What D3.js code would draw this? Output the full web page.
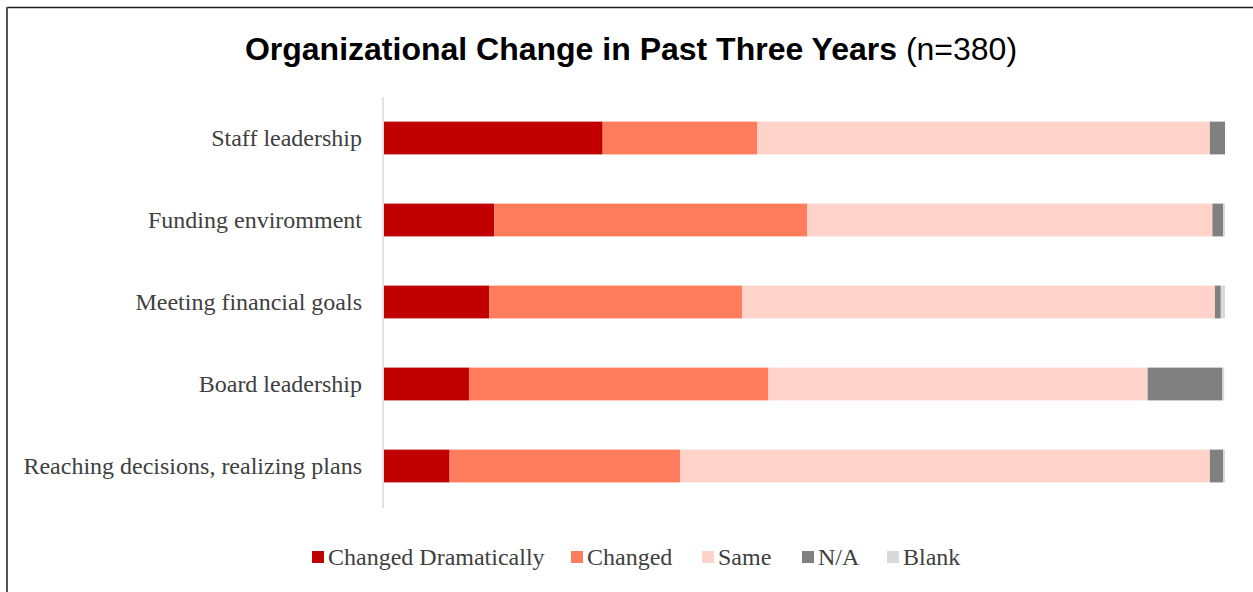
<!DOCTYPE html>
<html>
<head>
<meta charset="utf-8">
<script src="https://cdn.jsdelivr.net/npm/d3@7"></script>
<style>
  html, body { margin: 0; padding: 0; background: #fff; }
  svg { display: block; }
</style>
</head>
<body>
<svg id="chart" width="1253" height="592"></svg>
<script>
// Share of respondents (%) per area, by response
const categories = [
  "Staff leadership",
  "Funding enviromment",
  "Meeting financial goals",
  "Board leadership",
  "Reaching decisions, realizing plans"
];
const seriesNames = ["Changed Dramatically", "Changed", "Same", "N/A", "Blank"];
const changedDramatically = [26.0, 13.1, 12.5, 10.1, 7.8];
const changed             = [18.4, 37.2, 30.1, 35.6, 27.4];
const same                = [53.8, 48.2, 56.2, 45.1, 63.0];
const notApplicable       = [1.8, 1.3, 0.7, 8.9, 1.6];
const blank               = [0.0, 0.2, 0.5, 0.2, 0.2];
const seriesColors = ["#C00000", "#FF7C5C", "#FFD3CA", "#808080", "#D9D9D9"];

const rows = categories.map((c, i) => ({
  category: c,
  "Changed Dramatically": changedDramatically[i],
  "Changed": changed[i],
  "Same": same[i],
  "N/A": notApplicable[i],
  "Blank": blank[i]
}));

const svg = d3.select("#chart");
const W = 1253, H = 592;

// outer frame
svg.append("line").attr("x1", 7).attr("x2", W).attr("y1", 7.5).attr("y2", 7.5)
  .attr("stroke", "#1a1a1a").attr("stroke-width", 1.5);
svg.append("line").attr("x1", 7).attr("x2", 7).attr("y1", 7).attr("y2", H)
  .attr("stroke", "#555").attr("stroke-width", 2);

const margin = { left: 384, right: 28, top: 97, bottom: 85 };
const x = d3.scaleLinear().domain([0, 100]).range([margin.left, W - margin.right]);
const y = d3.scaleBand().domain(categories).range([margin.top, H - margin.bottom])
  .paddingInner(0.6).paddingOuter(0.3);

const stack = d3.stack().keys(seriesNames)(rows);
const color = d3.scaleOrdinal().domain(seriesNames).range(seriesColors);

svg.append("g").selectAll("g").data(stack).join("g")
  .attr("fill", d => color(d.key))
  .selectAll("rect").data(d => d).join("rect")
  .attr("x", d => x(d[0]))
  .attr("width", d => Math.max(0, x(d[1]) - x(d[0])))
  .attr("y", d => y(d.data.category))
  .attr("height", y.bandwidth());

// category axis
const yAxis = svg.append("g").attr("transform", `translate(${margin.left - 1},0)`)
  .call(d3.axisLeft(y).tickSize(0).tickPadding(21));
yAxis.select(".domain").attr("stroke", "#d9d9d9").attr("stroke-width", 1.5)
  .attr("d", `M0,${margin.top}V${H - margin.bottom + 1}`);
yAxis.selectAll("text")
  .attr("font-family", "'Liberation Serif', 'Times New Roman', serif")
  .attr("font-size", 24).attr("fill", "#404040");

// title
const title = svg.append("text").attr("x", 631).attr("y", 60).attr("text-anchor", "middle")
  .attr("font-family", "'Liberation Sans', Arial, sans-serif").attr("font-size", 32).attr("fill", "#000");
title.append("tspan").attr("font-weight", "bold").text("Organizational Change in Past Three Years");
title.append("tspan").text(" (n=380)");

// legend
const legendItems = [
  { key: "Changed Dramatically", x: 312 },
  { key: "Changed", x: 571 },
  { key: "Same", x: 702 },
  { key: "N/A", x: 802 },
  { key: "Blank", x: 887 }
];
const legend = svg.append("g");
legendItems.forEach(it => {
  legend.append("rect").attr("x", it.x).attr("y", 551).attr("width", 12).attr("height", 12)
    .attr("fill", color(it.key));
  legend.append("text").attr("x", it.x + 16).attr("y", 565)
    .attr("font-family", "'Liberation Serif', 'Times New Roman', serif")
    .attr("font-size", 24).attr("fill", "#404040").text(it.key);
});
</script>
</body>
</html>
